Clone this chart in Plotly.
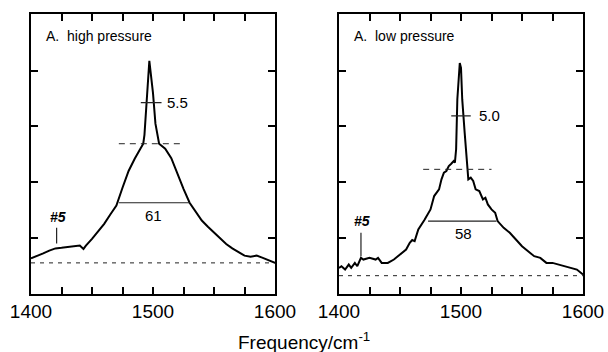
import plotly.graph_objects as go

# ---- data: high pressure spectrum (left) ----
hp_x = [1400, 1405, 1410, 1415, 1420, 1425, 1430, 1435, 1440, 1443, 1445, 1450, 1455, 1460, 1465,
        1470, 1475, 1480, 1485, 1490, 1492, 1493, 1495, 1497, 1500, 1502, 1505, 1510, 1515,
        1520, 1525, 1530, 1535, 1540, 1545, 1550, 1555, 1560, 1565, 1570, 1575, 1580, 1585, 1590, 1595, 1600]
hp_y = [0.63, 0.67, 0.72, 0.77, 0.81, 0.82, 0.83, 0.85, 0.86, 0.80, 0.86, 0.98, 1.11, 1.25, 1.42,
        1.58, 1.90, 2.20, 2.42, 2.60, 2.69, 2.85, 3.50, 4.18, 3.60, 3.05, 2.69, 2.60, 2.43,
        2.15, 1.88, 1.63, 1.46, 1.31, 1.20, 1.10, 0.99, 0.89, 0.81, 0.74, 0.68, 0.66, 0.68, 0.64, 0.60, 0.55]

# ---- data: low pressure spectrum (right) ----
lp_x = [1400, 1402, 1405, 1408, 1410, 1413, 1415, 1418, 1420, 1425, 1430, 1432, 1435, 1440, 1445,
        1450, 1455, 1458, 1460, 1462, 1465, 1470, 1475, 1478, 1482, 1484, 1486, 1488, 1490, 1492,
        1494, 1495, 1496, 1497, 1499, 1500, 1501, 1503, 1505, 1506, 1508, 1510, 1512, 1515, 1518,
        1520, 1522, 1525, 1528, 1530, 1535, 1540, 1545, 1550, 1555, 1560, 1565, 1570, 1575, 1580,
        1585, 1590, 1595, 1600]
lp_y = [0.46, 0.49, 0.43, 0.52, 0.46, 0.55, 0.49, 0.64, 0.61, 0.64, 0.61, 0.64, 0.55, 0.55, 0.61,
        0.70, 0.79, 0.91, 0.96, 0.94, 1.15, 1.32, 1.51, 1.75, 1.87, 2.05, 2.17, 2.20, 2.29, 2.33,
        2.38, 2.35, 2.59, 3.49, 4.14, 4.05, 3.49, 2.89, 2.41, 2.05, 2.08, 2.02, 1.87, 1.84, 1.69,
        1.72, 1.60, 1.51, 1.45, 1.30, 1.18, 1.09, 0.97, 0.85, 0.76, 0.67, 0.64, 0.55, 0.55, 0.52,
        0.49, 0.46, 0.43, 0.34]

panels = [
    dict(title="A.  high pressure", x=hp_x, y=hp_y, base=0.55,
         half=(1472, 1526, 2.69), fwhm=(1472, 1530, 1.63), fw_label="61", fw_lx=1500, fw_ly=1.40,
         narrow=(1490, 1507, 3.43), nw_label="5.5", nw_lx=1520, marker_x=1421, marker_y=(0.90, 1.18), m_ly=1.38),
    dict(title="A.  low pressure", x=lp_x, y=lp_y, base=0.32,
         half=(1469, 1525, 2.23), fwhm=(1473, 1529, 1.30), fw_label="58", fw_lx=1502, fw_ly=1.08,
         narrow=(1492, 1508, 3.19), nw_label="5.0", nw_lx=1523, marker_x=1418, marker_y=(0.67, 1.09), m_ly=1.30),
]

x_ticks = list(range(1400, 1601, 25))
x_text = [str(v) if v % 100 == 0 else "" for v in x_ticks]
y_ticks = [1, 2, 3, 4]

fig = go.Figure()
annotations = []
font = "Liberation Sans, Arial, sans-serif"

for i, p in enumerate(panels):
    xa = "x" if i == 0 else "x2"
    ya = "y" if i == 0 else "y2"
    # baseline
    fig.add_trace(go.Scatter(x=[1400, 1600], y=[p["base"], p["base"]], mode="lines",
                             line=dict(color="#222", width=1, dash="4px,5px"), xaxis=xa, yaxis=ya))
    # spectrum
    fig.add_trace(go.Scatter(x=p["x"], y=p["y"], mode="lines",
                             line=dict(color="black", width=2), xaxis=xa, yaxis=ya))
    # half-height dashed line
    h = p["half"]
    fig.add_trace(go.Scatter(x=[h[0], h[1]], y=[h[2], h[2]], mode="lines",
                             line=dict(color="#222", width=1, dash="6px,5px"), xaxis=xa, yaxis=ya))
    # FWHM broad line
    f = p["fwhm"]
    fig.add_trace(go.Scatter(x=[f[0], f[1]], y=[f[2], f[2]], mode="lines",
                             line=dict(color="#222", width=1.2), xaxis=xa, yaxis=ya))
    # narrow width line
    n = p["narrow"]
    fig.add_trace(go.Scatter(x=[n[0], n[1]], y=[n[2], n[2]], mode="lines",
                             line=dict(color="#222", width=1.2), xaxis=xa, yaxis=ya))
    # #5 marker line
    fig.add_trace(go.Scatter(x=[p["marker_x"], p["marker_x"]], y=list(p["marker_y"]), mode="lines",
                             line=dict(color="#222", width=1.2), xaxis=xa, yaxis=ya))

    annotations += [
        dict(x=1411, y=4.63, xref=xa, yref=ya, text=p["title"], showarrow=False, xanchor="left",
             font=dict(size=14, color="black", family=font)),
        dict(x=p["fw_lx"], y=p["fw_ly"], xref=xa, yref=ya, text=p["fw_label"], showarrow=False,
             font=dict(size=15, color="black", family=font)),
        dict(x=p["nw_lx"], y=n[2], xref=xa, yref=ya, text=p["nw_label"], showarrow=False,
             font=dict(size=15, color="black", family=font)),
        dict(x=p["marker_x"] + 1, y=p["m_ly"], xref=xa, yref=ya, text="<i><b>#5</b></i>", showarrow=False,
             font=dict(size=14, color="black", family=font)),
    ]

annotations.append(dict(x=0.5, y=1 - 341 / 352, xref="paper", yref="paper", yanchor="middle",
                        text="Frequency/cm<sup>-1</sup>",
                        showarrow=False, font=dict(size=19, color="black", family=font)))

axis_common = dict(showline=True, linecolor="black", linewidth=2, mirror="ticks", ticks="inside",
                   ticklen=7, tickwidth=1.5, tickcolor="black", showgrid=False, zeroline=False,
                   automargin=False)

xcommon = dict(axis_common, range=[1400, 1600], tickvals=x_ticks, ticktext=x_text,
               tickfont=dict(size=19, color="black", family=font))
ycommon = dict(axis_common, range=[0, 5.02], tickvals=y_ticks, ticktext=["", "", "", ""])

fig.update_layout(
    width=608, height=352, showlegend=False,
    margin=dict(l=0, r=0, t=0, b=0),
    plot_bgcolor="white", paper_bgcolor="white",
    xaxis=dict(xcommon, domain=[31 / 608, 275 / 608], anchor="y"),
    yaxis=dict(ycommon, domain=[1 - 293.5 / 352, 1 - 14 / 352], anchor="x"),
    xaxis2=dict(xcommon, domain=[339 / 608, 583 / 608], anchor="y2"),
    yaxis2=dict(ycommon, domain=[1 - 293.5 / 352, 1 - 14 / 352], anchor="x2"),
    annotations=annotations,
)

fig.write_html("out.html")
